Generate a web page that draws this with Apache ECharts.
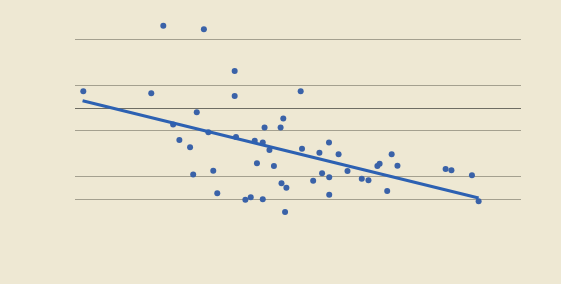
<!DOCTYPE html>
<html>
<head>
<meta charset="utf-8">
<style>
html,body{margin:0;padding:0;background:#EEE8D3;}
#chart{width:561px;height:284px;}
</style>
<script src="https://cdn.jsdelivr.net/npm/echarts@6/dist/echarts.min.js"></script>
</head>
<body>
<div id="chart"></div>
<script>
const pointsX = [1.86,17.1,19.8,28.9,35.8,35.8,27.3,22.0,29.9,23.4,25.8,36.1,40.3,42.1,42.5,46.1,46.7,50.6,43.6,40.8,44.6,31.0,26.5,31.9,38.2,39.4,42.1,46.3,47.4,47.1,50.9,56.95,54.8,59.1,53.4,55.4,57.0,57.0,61.1,64.3,65.8,67.8,68.3,71.0,72.3,70.0,83.1,84.4,89.0,90.5];
const pointsY = [47.25,46.4,75.95,74.4,56.1,45.2,38.1,32.7,29.3,25.9,22.8,27.3,25.6,24.8,31.4,31.4,35.3,47.25,21.6,15.75,14.6,12.5,10.8,2.7,-0.2,0.9,0.0,7.0,5.1,-5.6,22.1,24.85,20.4,19.7,8.1,11.4,9.6,2.0,12.4,9.0,8.3,14.6,15.6,19.7,14.7,3.6,13.3,12.7,10.5,-0.9];
const trendX = [1.7, 90.5];
const trendY = [43.1, 0.6];
const yTicks = [-10,0,10,20,30,40,50,60,70,80];
const gridLineColors = ['rgba(0,0,0,0)','#A4A08F','#A4A08F','rgba(0,0,0,0)','#A4A08F','#6E6D63','#A4A08F','rgba(0,0,0,0)','#A4A08F','rgba(0,0,0,0)'];

const scatterData = pointsX.map((x,i)=>[x,pointsY[i]]);
const trendData = trendX.map((x,i)=>[x,trendY[i]]);

const chart = echarts.init(document.getElementById('chart'), null, {renderer:'canvas'});
chart.setOption({
  backgroundColor:'#EEE8D3',
  animation:false,
  grid:{left:75,right:40,top:16.44,bottom:61.84},
  xAxis:{type:'value',min:0,max:100,show:true,
    axisLine:{show:false},axisTick:{show:false},axisLabel:{show:false},splitLine:{show:false}},
  yAxis:{type:'value',min:yTicks[0],max:yTicks[yTicks.length-1],interval:10,
    axisLine:{show:false},axisTick:{show:false},axisLabel:{show:false},
    splitLine:{show:true,lineStyle:{color:gridLineColors,width:1}}},
  series:[
    {type:'scatter',data:scatterData,symbolSize:6,itemStyle:{color:'#3A62A8',opacity:1},z:2},
    {type:'line',data:trendData,showSymbol:false,lineStyle:{color:'#2D61B2',width:3},z:3}
  ]
});
</script>
</body>
</html>
